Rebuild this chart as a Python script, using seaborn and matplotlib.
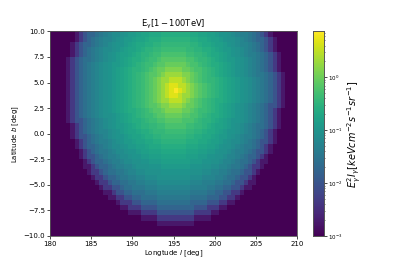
import numpy as np
import pandas as pd
import matplotlib
matplotlib.use("Agg")
import matplotlib.pyplot as plt
import seaborn as sns
from matplotlib.colors import LogNorm
from matplotlib.ticker import LogLocator, NullFormatter

# ---- data ----
# radial profile of the halo (distance from centre in deg -> log10 intensity)
radius_deg = [0.0, 0.5, 1.0, 1.5, 2.0, 2.5, 3.0, 3.5, 4.0, 4.5, 5.0, 5.5, 6.0, 6.5,
              7.0, 7.5, 8.0, 8.5, 9.0, 9.5, 10.0, 10.5, 11.0, 11.5, 12.0, 12.5, 13.0]
log10_intensity = [0.87, 0.68, 0.48, 0.29, 0.12, -0.03, -0.15, -0.26, -0.36, -0.44, -0.52,
                   -0.60, -0.68, -0.75, -0.83, -0.91, -0.99, -1.06, -1.14, -1.24, -1.34,
                   -1.45, -1.58, -1.75, -2.00, -2.35, -2.75]
centre_l = 195.1
centre_b = 4.3
l_range = [180, 210]
b_range = [-10, 10]
cell_deg = 0.5
x_ticks = [180, 185, 190, 195, 200, 205, 210]
y_ticks = [10.0, 7.5, 5.0, 2.5, 0.0, -2.5, -5.0, -7.5, -10.0]
vmin, vmax = 1e-3, 10 ** 0.87

# ---- grid of cells ----
l_centres = np.arange(l_range[0] + cell_deg / 2, l_range[1], cell_deg)
b_centres = np.arange(b_range[1] - cell_deg / 2, b_range[0], -cell_deg)
L, B = np.meshgrid(l_centres, b_centres)
dist = np.hypot(L - centre_l, B - centre_b)
prof = np.array(log10_intensity)
idx = np.round(dist / cell_deg).astype(int)
vals = np.full(dist.shape, 1e-5)
inside = idx < len(prof)
vals[inside] = 10 ** prof[idx[inside]]

df = pd.DataFrame(vals, index=np.round(b_centres, 2), columns=np.round(l_centres, 2))

fig = plt.figure(figsize=(3.99, 2.66), dpi=100)
ax = fig.add_axes([0.125, 0.113, 0.620, 0.769])
cax = fig.add_axes([0.784, 0.113, 0.027, 0.769])

sns.heatmap(df, ax=ax, cbar_ax=cax, cmap="viridis",
            norm=LogNorm(vmin=vmin, vmax=vmax), xticklabels=False, yticklabels=False)

nx = len(l_centres)
ny = len(b_centres)
xpos = [(t - l_range[0]) / cell_deg for t in x_ticks]
ypos = [(b_range[1] - t) / cell_deg for t in y_ticks]
ax.set_xticks(xpos)
ax.set_xticklabels([str(t) for t in x_ticks], fontsize=5)
ax.set_yticks(ypos)
ax.set_yticklabels([f"{t:.1f}".replace("-", "\u2212") for t in y_ticks], fontsize=5)
ax.tick_params(length=2, width=0.5, pad=1.5)
for s in ax.spines.values():
    s.set_visible(True)
    s.set_linewidth(0.6)
    s.set_color("#555555")
ax.set_xlim(0, nx)
ax.set_ylim(ny, 0)
ax.set_xlabel("Longtude $l$ [deg]", fontsize=5, labelpad=1.5)
ax.set_ylabel("Latitude $b$ [deg]", fontsize=5, labelpad=2)
ax.set_title(r"$\mathrm{E_{\gamma}[1-100TeV]}$", fontsize=6, pad=3)

cax.yaxis.set_major_locator(LogLocator(base=10, numticks=10))
cax.yaxis.set_minor_locator(LogLocator(base=10, subs=np.arange(2, 10), numticks=10))
cax.yaxis.set_minor_formatter(NullFormatter())
cax.tick_params(which="major", labelsize=4, length=2, width=0.5, pad=1.5)
cax.tick_params(which="minor", length=1, width=0.4)
for s in cax.spines.values():
    s.set_visible(True)
    s.set_linewidth(0.6)
    s.set_color("#555555")
cax.set_ylabel(r"$E_{\gamma}^{2}I_{\gamma}[keVcm^{-2}s^{-1}sr^{-1}]$", fontsize=7, labelpad=2)

fig.savefig("out.png", dpi=100)
